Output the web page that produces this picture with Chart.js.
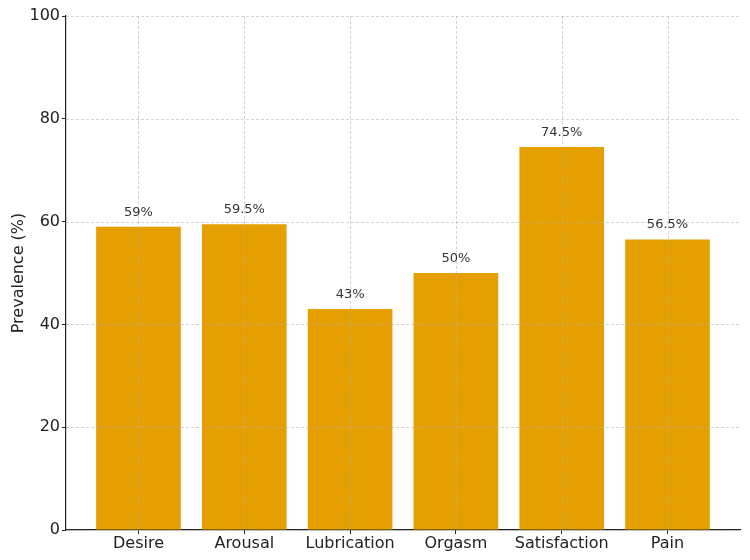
<!DOCTYPE html>
<html>
<head>
<meta charset="utf-8">
<script src="https://cdn.jsdelivr.net/npm/chart.js@4/dist/chart.umd.min.js"></script>
<style>
  body { margin: 0; background: #fff; }
  #wrap { width: 750px; height: 560px; }
</style>
</head>
<body>
<div id="wrap"><canvas id="myChart" width="750" height="560"></canvas></div>
<script>
const categories = ['Desire', 'Arousal', 'Lubrication', 'Orgasm', 'Satisfaction', 'Pain']
const prevalence = [59, 59.5, 43, 50, 74.5, 56.5]
const yTicks = [0, 20, 40, 60, 80, 100]

const font = "'DejaVu Sans', sans-serif"

// grid drawn on top of the bars, plus value labels
const overlay = {
    id: 'overlay',
    afterDatasetsDraw(chart) {
        const ctx = chart.ctx
        const area = chart.chartArea
        const x = chart.scales.x
        const y = chart.scales.y
        ctx.save()
        ctx.strokeStyle = 'rgba(176,176,176,0.7)'
        ctx.lineWidth = 0.8
        ctx.setLineDash([3, 2])
        categories.forEach((c, i) => {
            const px = Math.round(x.getPixelForValue(i)) + 0.5
            ctx.beginPath()
            ctx.moveTo(px, area.top)
            ctx.lineTo(px, area.bottom)
            ctx.stroke()
        })
        yTicks.forEach(v => {
            const py = Math.round(y.getPixelForValue(v)) + 0.5
            ctx.beginPath()
            ctx.moveTo(area.left, py)
            ctx.lineTo(area.right, py)
            ctx.stroke()
        })
        ctx.setLineDash([])
        ctx.fillStyle = '#333'
        ctx.font = '13px ' + font
        ctx.textAlign = 'center'
        ctx.textBaseline = 'bottom'
        chart.getDatasetMeta(0).data.forEach((bar, i) => {
            ctx.fillText(prevalence[i] + '%', bar.x, bar.y - 8)
        })
        ctx.restore()
    }
}

const ctx = document.getElementById('myChart').getContext('2d')
const myChart = new Chart(ctx, {
    type: 'bar',
    data: {
        datasets: [{
            data: prevalence.map((v, i) => ({ x: i, y: v })),
            backgroundColor: '#E69F00',
            borderWidth: 0,
            barPercentage: 0.8,
            categoryPercentage: 1.0,
        }]
    },
    options: {
        responsive: false,
        animation: false,
        layout: { padding: { top: 16, right: 10, left: 9, bottom: 0 } },
        plugins: { legend: { display: false }, tooltip: { enabled: false } },
        scales: {
            x: {
                type: 'linear',
                min: -0.685,
                max: 5.685,
                offset: false,
                afterBuildTicks: s => { s.ticks = categories.map((c, i) => ({ value: i })) },
                afterFit: s => { s.height = 30 },
                grid: { offset: false, color: 'rgba(0,0,0,0)', tickColor: '#222', tickLength: 4, drawOnChartArea: false },
                border: { color: '#222', width: 1.2 },
                ticks: {
                    autoSkip: false,
                    maxRotation: 0,
                    padding: 0,
                    color: '#222',
                    font: { family: font, size: 16 },
                    callback: v => categories[v]
                }
            },
            y: {
                min: 0,
                max: 100,
                afterBuildTicks: s => { s.ticks = yTicks.map(v => ({ value: v })) },
                afterFit: s => { s.width = 57 },
                grid: { color: 'rgba(0,0,0,0)', tickColor: '#222', tickLength: 4, drawOnChartArea: false },
                border: { color: '#222', width: 1.2 },
                title: {
                    display: true,
                    text: 'Prevalence (%)',
                    color: '#222',
                    font: { family: font, size: 16 },
                    padding: 0
                },
                ticks: {
                    padding: 2,
                    color: '#222',
                    font: { family: font, size: 16 }
                }
            }
        }
    },
    plugins: [overlay]
})
</script>
</body>
</html>
